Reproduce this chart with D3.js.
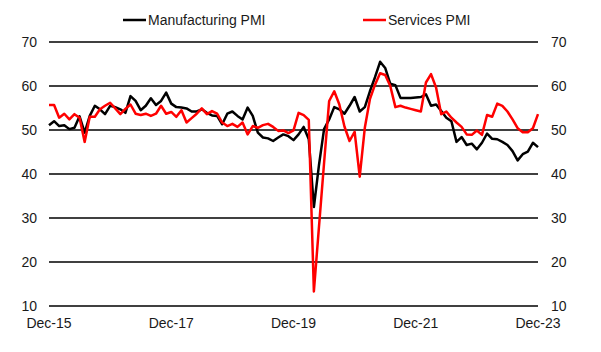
<!DOCTYPE html>
<html>
<head>
<meta charset="utf-8">
<script src="https://cdn.jsdelivr.net/npm/d3@7"></script>
<style>
  body { margin: 0; background: #fff; }
  svg text { font-family: "Liberation Sans", Arial, sans-serif; font-size: 14px; fill: #1a1a1a; }
</style>
</head>
<body>
<div id="container"></div>
<script>
// monthly readings, Dec-15 .. Dec-23
const manufacturing = [
  51.1, 52.0, 50.9, 51.1, 50.2, 50.5, 53.1, 49.4, 53.2, 55.5, 54.7, 53.6,
  55.5, 55.2, 54.7, 53.9, 57.7, 56.6, 54.5, 55.5, 57.2, 55.7, 56.6, 58.5,
  56.0, 55.2, 55.1, 54.9, 54.2, 54.2, 54.7, 53.9, 53.3, 53.2, 51.3, 53.7,
  54.2, 53.2, 52.4, 55.1, 53.2, 49.4, 48.3, 48.1, 47.5, 48.3, 49.0, 48.6,
  47.7, 49.0, 50.7, 47.9, 32.5, 42.0, 50.2, 52.4, 55.2, 54.7, 53.7, 55.5,
  57.5, 54.2, 55.2, 58.8, 62.0, 65.5, 64.1, 60.5, 60.2, 57.3, 57.3, 57.3,
  57.4, 57.5, 58.1, 55.5, 55.8, 54.3, 52.8, 52.0, 47.3, 48.4, 46.6, 46.9,
  45.6, 47.1, 49.2, 48.0, 47.9, 47.3, 46.6, 45.2, 43.1, 44.5, 45.1, 47.1,
  46.1
];
const services = [
  55.7, 55.7, 52.8, 53.7, 52.4, 53.6, 52.8, 47.3, 53.0, 53.0, 54.7, 55.5,
  56.2, 54.9, 53.6, 54.8, 55.8, 53.7, 53.4, 53.7, 53.2, 53.7, 55.5, 53.7,
  54.1, 53.0, 54.5, 51.7, 52.7, 53.7, 54.9, 53.6, 54.3, 53.7, 51.7, 50.9,
  51.4, 50.7, 51.7, 49.0, 50.9, 50.5, 51.1, 51.4, 50.7, 49.8, 49.9, 49.3,
  49.9, 53.9, 53.4, 52.3, 13.3, 28.0, 42.5, 56.6, 58.8, 55.8, 50.8, 47.5,
  49.6, 39.4, 50.5, 57.0, 60.3, 62.9, 62.5, 60.0, 55.2, 55.5, 55.1, 54.8,
  54.5, 54.2, 60.8, 62.7, 59.6, 53.6, 54.2, 52.8, 51.7, 50.7, 49.0, 48.9,
  49.9, 48.9, 53.4, 53.0, 56.0, 55.5, 54.2, 52.4, 50.4, 49.5, 49.5, 50.4,
  53.6
];
const yTicks = [10, 20, 30, 40, 50, 60, 70];
const xTickIdx = [0, 24, 48, 72, 96];
const xTickLabels = ["Dec-15", "Dec-17", "Dec-19", "Dec-21", "Dec-23"];
const seriesNames = ["Manufacturing PMI", "Services PMI"];
const seriesColors = ["#000000", "#ff0000"];

const width = 601, height = 352;
const margin = { top: 42, right: 63, bottom: 46, left: 49 };

const svg = d3.select("#container").append("svg")
  .attr("width", width).attr("height", height);

const x = d3.scaleLinear()
  .domain([0, manufacturing.length - 1])
  .range([margin.left, width - margin.right]);

const y = d3.scaleLinear()
  .domain([10, 70])
  .range([height - margin.bottom, margin.top]);

// grid
svg.append("g")
  .selectAll("line")
  .data(yTicks)
  .join("line")
  .attr("x1", x(0)).attr("x2", x(96))
  .attr("y1", d => y(d)).attr("y2", d => y(d))
  .attr("stroke", "#000").attr("stroke-width", 1.5);

// left and right tick labels
svg.append("g").selectAll("text")
  .data(yTicks).join("text")
  .attr("x", 37).attr("y", d => y(d)).attr("dy", "0.35em")
  .attr("text-anchor", "end")
  .text(d => d);

svg.append("g").selectAll("text")
  .data(yTicks).join("text")
  .attr("x", 551).attr("y", d => y(d)).attr("dy", "0.35em")
  .text(d => d);

// x labels
svg.append("g").selectAll("text")
  .data(xTickIdx).join("text")
  .attr("x", d => x(d)).attr("y", 328)
  .attr("text-anchor", "middle")
  .text((d, i) => xTickLabels[i]);

// lines
const line = d3.line()
  .x((d, i) => x(i))
  .y(d => y(d));

[manufacturing, services].forEach((s, k) => {
  svg.append("path")
    .datum(s)
    .attr("fill", "none")
    .attr("stroke", seriesColors[k])
    .attr("stroke-width", 2.5)
    .attr("stroke-linejoin", "round")
    .attr("d", line);
});

// legend
const legendX = [123, 363];
seriesNames.forEach((name, k) => {
  const g = svg.append("g").attr("transform", `translate(${legendX[k]},20)`);
  g.append("line")
    .attr("x1", 0).attr("x2", 23)
    .attr("stroke", seriesColors[k]).attr("stroke-width", 2.5);
  g.append("text")
    .attr("x", 25).attr("dy", "0.35em")
    .text(name);
});
</script>
</body>
</html>
